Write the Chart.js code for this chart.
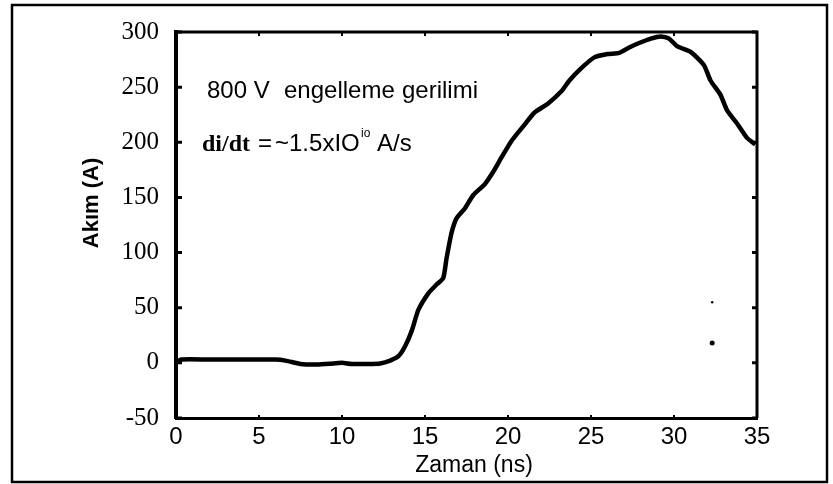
<!DOCTYPE html>
<html>
<head>
<meta charset="utf-8">
<script src="https://cdn.jsdelivr.net/npm/chart.js@4.4.1/dist/chart.umd.min.js"></script>
<style>
  html, body { margin: 0; padding: 0; background: #fff; }
  canvas { display: block; }
</style>
</head>
<body>
<canvas id="akim" width="833" height="484"></canvas>
<script>
// zaman (ns) / akim (A) okumalari
var zaman = [0, 0.3, 2, 4, 6, 6.6, 7.5, 8.5, 9.5, 10, 10.6, 11.5, 12.3, 12.9, 13.4, 13.8, 14.2, 14.6, 15.2, 15.7, 16.1,
             16.3, 16.6, 16.9, 17.4, 17.9, 18.6, 19.1, 19.6, 20.2, 21, 21.6, 22.4, 23.2, 23.7, 24.4, 25.2, 26, 26.7,
             27.3, 27.9, 28.6, 29.2, 29.7, 30.2, 31, 31.8, 32.2, 32.8, 33.2, 33.8, 34.4, 34.9];
var akim  = [0, 3, 3, 3, 3, 2, -1, -1.5, -0.5, 0, -1, -1, -0.5, 2, 6, 15, 29, 48, 63, 71, 77,
             95, 118, 131, 140, 152, 162, 173, 186, 201, 216, 227, 235, 246, 256, 267, 277, 280, 281,
             286, 290, 294, 296, 294, 287, 282, 270, 256, 243, 229, 217, 204, 198];
// taramadaki iki nokta
var lekeX = [32.3, 32.3];
var lekeY = [55, 18];

var xTicks = [0, 5, 10, 15, 20, 25, 30, 35];
var yTicks = [-50, 0, 50, 100, 150, 200, 250, 300];

var cerceve = {
  id: 'cerceve',
  afterDraw: function(chart) {
    var ctx = chart.ctx, a = chart.chartArea;
    var xs = chart.scales.x, ys = chart.scales.y;
    ctx.save();
    ctx.strokeStyle = '#000';
    ctx.fillStyle = '#000';

    // dis cerceve
    ctx.lineWidth = 2.5;
    ctx.strokeRect(12, 5, 815, 477);

    // ust ve sag kenar
    ctx.lineWidth = 3;
    ctx.beginPath();
    ctx.moveTo(a.left, a.top);
    ctx.lineTo(a.right, a.top);
    ctx.lineTo(a.right, a.bottom);
    ctx.stroke();

    // ice bakan tikler
    yTicks.forEach(function(v) {
      var py = ys.getPixelForValue(v);
      ctx.beginPath();
      ctx.moveTo(a.left, py); ctx.lineTo(a.left + 6, py);
      ctx.moveTo(a.right, py); ctx.lineTo(a.right - 5, py);
      ctx.stroke();
    });
    ctx.lineWidth = 2;
    xTicks.forEach(function(v) {
      var px = xs.getPixelForValue(v);
      ctx.beginPath();
      ctx.moveTo(px, a.top); ctx.lineTo(px, a.top + 4);
      ctx.moveTo(px, a.bottom); ctx.lineTo(px, a.bottom - 3);
      ctx.stroke();
    });

    // yazilar
    ctx.textBaseline = 'alphabetic';
    ctx.textAlign = 'left';
    ctx.font = '24px "Liberation Sans"';
    ctx.fillText('800 V', 207, 98);
    ctx.fillText('engelleme', 284, 98);
    ctx.fillText('gerilimi', 402, 98);

    ctx.font = 'bold 24px "Liberation Serif"';
    ctx.fillText('di/dt', 202, 151);
    ctx.font = '24px "Liberation Sans"';
    ctx.fillText('=', 258, 151);
    ctx.fillText('~1.5xIO', 275, 151);
    ctx.font = '12px "Liberation Sans"';
    ctx.fillText('io', 361, 137);
    ctx.font = '24px "Liberation Sans"';
    ctx.fillText('A/s', 377, 151);

    ctx.textAlign = 'center';
    ctx.font = '23px "Liberation Sans"';
    ctx.fillText('Zaman (ns)', 474, 472);

    ctx.translate(92, 203);
    ctx.rotate(-Math.PI / 2);
    ctx.textBaseline = 'middle';
    ctx.font = 'bold 22px "Liberation Sans"';
    ctx.fillText('Akım (A)', 0, 0);
    ctx.restore();
  }
};

new Chart(document.getElementById('akim'), {
  type: 'line',
  data: {
    datasets: [{
      data: zaman.map(function(x, i) { return { x: x, y: akim[i] }; }),
      borderColor: '#000',
      borderWidth: 4.5,
      pointRadius: 0,
      tension: 0.2,
      fill: false
    }, {
      data: lekeX.map(function(x, i) { return { x: x, y: lekeY[i] }; }),
      showLine: false,
      pointRadius: [1.2, 2.5],
      pointBackgroundColor: '#000',
      pointBorderWidth: 0
    }]
  },
  options: {
    responsive: false,
    animation: false,
    devicePixelRatio: 1,
    layout: { padding: { left: 0, right: 76, top: 27, bottom: 0 } },
    plugins: { legend: { display: false }, tooltip: { enabled: false } },
    scales: {
      x: {
        type: 'linear', min: 0, max: 35,
        afterBuildTicks: function(s) { s.ticks = xTicks.map(function(v) { return { value: v }; }); },
        afterFit: function(s) { s.height = 66; },
        grid: { display: false, drawTicks: false },
        border: { display: true, color: '#000', width: 3 },
        ticks: { color: '#000', font: { family: 'Liberation Sans', size: 24 }, padding: 5, maxRotation: 0, autoSkip: false }
      },
      y: {
        type: 'linear', min: -50, max: 300,
        afterBuildTicks: function(s) { s.ticks = yTicks.map(function(v) { return { value: v }; }); },
        afterFit: function(s) { s.width = 176; },
        grid: { display: false, drawTicks: false },
        border: { display: true, color: '#000', width: 4 },
        ticks: { color: '#000', font: { family: 'Liberation Serif', size: 25 }, padding: 17, autoSkip: false }
      }
    }
  },
  plugins: [cerceve]
});
</script>
</body>
</html>
